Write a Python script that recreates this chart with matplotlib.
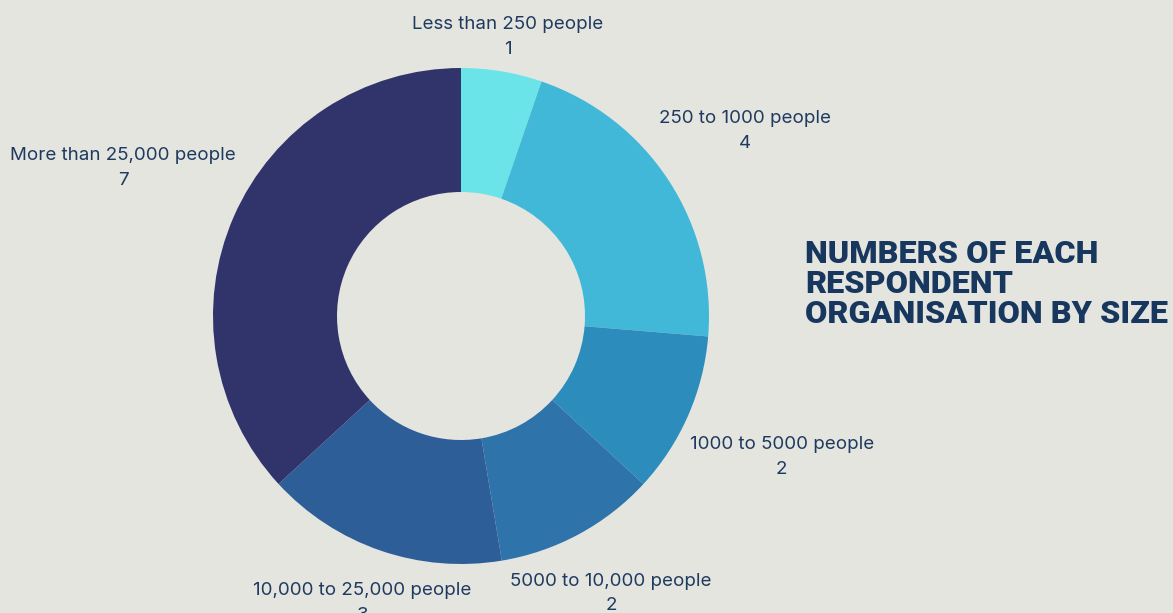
import numpy as np
import matplotlib.pyplot as plt

categories = ["Less than 250 people", "250 to 1000 people", "1000 to 5000 people",
              "5000 to 10,000 people", "10,000 to 25,000 people", "More than 25,000 people"]
counts = [1, 4, 2, 2, 3, 7]
colors = ["#6be4e9", "#42b8d8", "#2c8cbc", "#2e74ab", "#2e5e98", "#31346b"]
title = "NUMBERS OF EACH\nRESPONDENT\nORGANISATION BY SIZE"

bg = "#e5e5e0"
text_color = "#1f3a5f"
plt.rcParams['font.family'] = ['Inter', 'DejaVu Sans']

W, H = 1173, 613
fig = plt.figure(figsize=(W / 100, H / 100), dpi=100, facecolor=bg)

# donut centre and radius in pixels
cx, cy, R = 461, 316, 248
ax = fig.add_axes([(cx - R) / W, (H - cy - R) / H, 2 * R / W, 2 * R / H])
ax.set_facecolor(bg)
ax.axis('off')

wedges, _ = ax.pie(counts, colors=colors, startangle=90, counterclock=False,
                   radius=1, wedgeprops=dict(width=0.5, linewidth=0))
ax.set_xlim(-1, 1)
ax.set_ylim(-1, 1)

# labels pushed outward along the slice middle so the box clears the ring
renderer = fig.canvas.get_renderer()
px = 1 / R
for w, cat, n in zip(wedges, categories, counts):
    ang = np.deg2rad((w.theta1 + w.theta2) / 2)
    c, s = abs(np.cos(ang)), abs(np.sin(ang))
    t = ax.text(0, 0, f"{cat}\n{n}", ha='center', va='center', fontsize=13.5,
                color=text_color, linespacing=1.6, multialignment='center')
    bb = t.get_window_extent(renderer)
    half = c * bb.width / 2 + 9 * c * c + s * bb.height * 0.37
    r = 1 + (half + 4) * px
    t.set_position((r * np.cos(ang), r * np.sin(ang)))
    t.set_clip_on(False)

fig.text(805 / W, 1 - 239 / H, title, ha='left', va='top', fontsize=23.3,
         fontweight='black', family=['Roboto', 'DejaVu Sans'], color="#17375e",
         linespacing=1.0)

fig.savefig("out.png", dpi=100, facecolor=bg)
